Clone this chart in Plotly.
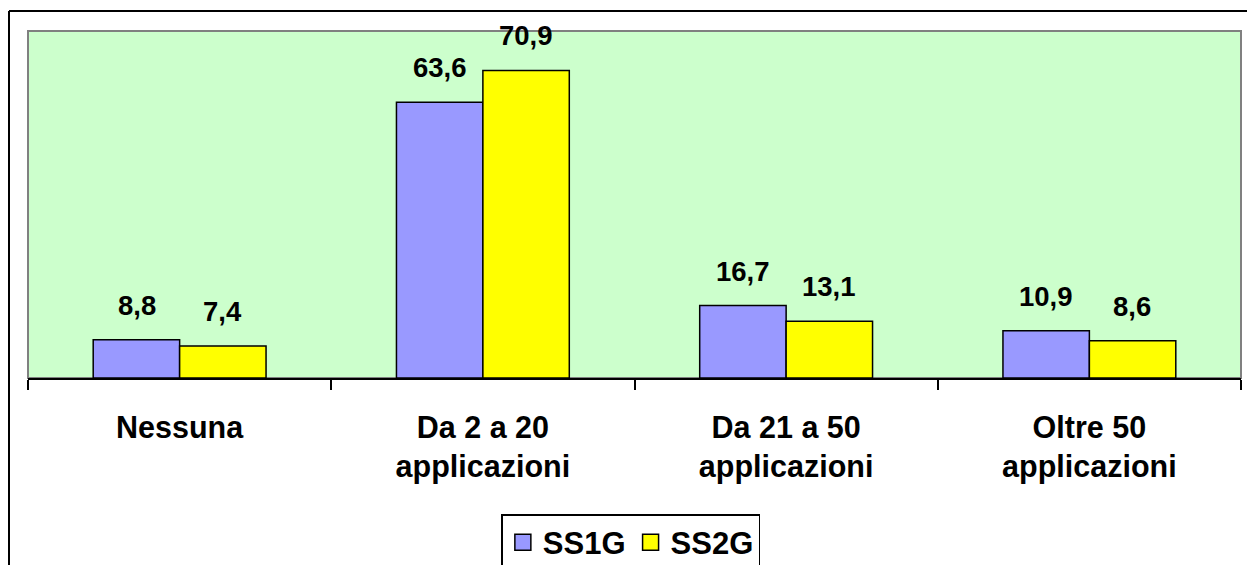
import plotly.graph_objects as go

categories = ["Nessuna", "Da 2 a 20<br>applicazioni", "Da 21 a 50<br>applicazioni", "Oltre 50<br>applicazioni"]
ss1g = [8.8, 63.6, 16.7, 10.9]
ss2g = [7.4, 70.9, 13.1, 8.6]
series_names = ["SS1G", "SS2G"]
colors = ["#9999FF", "#FFFF00"]

W, H = 1247, 565
L, R, T, B = 28, 6, 31, 187

fig = go.Figure()
for name, vals, col in zip(series_names, [ss1g, ss2g], colors):
    fig.add_trace(go.Bar(x=categories, y=vals, name=name, marker=dict(color=col, line=dict(color="black", width=1.5)),
                         showlegend=False))
    fig.add_trace(go.Scatter(x=[None], y=[None], mode="markers", name=name,
                             marker=dict(symbol="square", size=16, color=col, line=dict(color="black", width=1.5))))

ann = []
for vals, shift in [(ss1g, -43), (ss2g, 43)]:
    for c, v in zip(categories, vals):
        ann.append(dict(x=c, y=v, xref="x", yref="y", text=f"{v:.1f}".replace(".", ","), showarrow=False,
                        xshift=shift, yshift=17, yanchor="bottom",
                        font=dict(family="Arial, Liberation Sans", size=27.5, color="black", weight="bold")))

pw = W - L - R
ph = H - T - B
fig.update_layout(
    width=W, height=H,
    margin=dict(l=L, r=R, t=T, b=B, autoexpand=False),
    paper_bgcolor="white", plot_bgcolor="#CCFFCC",
    barmode="group", bargap=0.43, bargroupgap=0,
    annotations=ann,
    font=dict(family="Arial, Liberation Sans", color="black"),
    xaxis=dict(tickson="boundaries", ticks="outside", ticklen=10, tickwidth=1.5, tickcolor="black",
               showline=True, linecolor="black", linewidth=2, ticklabelstandoff=21, automargin=False,
               tickfont=dict(size=30.5, weight="bold", family="Arial, Liberation Sans"), showgrid=False),
    yaxis=dict(range=[0, 80], showticklabels=False, showgrid=False, zeroline=False, ticks="", automargin=False),
    legend=dict(orientation="h", x=0.497, xanchor="center", y=-0.392, yanchor="top",
                bordercolor="black", borderwidth=1.5, bgcolor="white",
                font=dict(size=31, weight="bold", family="Arial, Liberation Sans"),
                itemwidth=30, tracegroupgap=0),
    shapes=[
        dict(type="rect", xref="paper", yref="paper", x0=0, x1=1, y0=0, y1=1,
             line=dict(color="#808080", width=2), layer="below"),
        dict(type="line", xref="paper", yref="paper", x0=(9 - L) / pw, x1=(9 - L) / pw, y0=-1, y1=1 + (T - 11) / ph,
             line=dict(color="black", width=2)),
        dict(type="line", xref="paper", yref="paper", x0=(9 - L) / pw, x1=1.1, y0=1 + (T - 11) / ph, y1=1 + (T - 11) / ph,
             line=dict(color="black", width=2)),
    ],
)

fig.write_html("out.html", config={"displayModeBar": False},
               post_script="document.body.style.margin='0';document.body.style.overflow='hidden';")
